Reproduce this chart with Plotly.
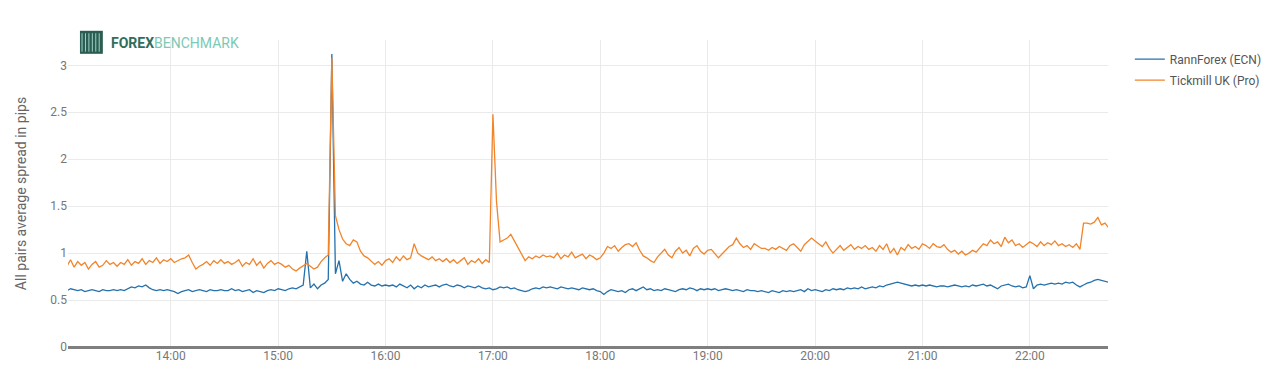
import pandas as pd
import plotly.graph_objects as go

# Sampling: every 2 minutes starting 13:02
start_time = "2024-01-01 13:02"
step = "2min"

rannforex = [
    0.60, 0.62, 0.61, 0.60, 0.61, 0.59, 0.60, 0.61, 0.60, 0.59, 0.61, 0.60, 0.60, 0.61, 0.60,
    0.61, 0.60, 0.62, 0.64, 0.63, 0.65, 0.64, 0.66, 0.63, 0.61, 0.60, 0.61, 0.60, 0.61, 0.60,
    0.59, 0.57, 0.59, 0.60, 0.61, 0.59, 0.60, 0.61, 0.60, 0.59, 0.61, 0.60, 0.60, 0.61, 0.60,
    0.60, 0.62, 0.60, 0.61, 0.59, 0.60, 0.61, 0.58, 0.60, 0.59, 0.58, 0.60, 0.61, 0.60, 0.62,
    0.61, 0.60, 0.62, 0.63, 0.62, 0.64, 0.66, 1.02, 0.63, 0.67, 0.62, 0.66, 0.68, 0.72, 3.12,
    0.78, 0.92, 0.70, 0.78, 0.72, 0.68, 0.70, 0.67, 0.66, 0.69, 0.66, 0.65, 0.67, 0.65, 0.66,
    0.65, 0.66, 0.64, 0.67, 0.65, 0.63, 0.66, 0.62, 0.65, 0.63, 0.66, 0.64, 0.65, 0.66, 0.64,
    0.66, 0.67, 0.65, 0.64, 0.66, 0.65, 0.63, 0.65, 0.64, 0.63, 0.65, 0.63, 0.62, 0.63, 0.61,
    0.62, 0.64, 0.63, 0.64, 0.62, 0.63, 0.61, 0.60, 0.59, 0.60, 0.62, 0.63, 0.62, 0.64, 0.63,
    0.64, 0.63, 0.62, 0.64, 0.63, 0.62, 0.63, 0.62, 0.61, 0.63, 0.62, 0.61, 0.62, 0.60, 0.59,
    0.56, 0.59, 0.61, 0.60, 0.59, 0.60, 0.58, 0.61, 0.62, 0.60, 0.62, 0.64, 0.61, 0.62, 0.60,
    0.61, 0.60, 0.62, 0.61, 0.60, 0.59, 0.61, 0.62, 0.61, 0.63, 0.62, 0.60, 0.62, 0.61, 0.62,
    0.61, 0.62, 0.60, 0.61, 0.62, 0.61, 0.60, 0.61, 0.60, 0.59, 0.61, 0.60, 0.60, 0.59, 0.60,
    0.59, 0.58, 0.60, 0.59, 0.58, 0.60, 0.59, 0.60, 0.59, 0.60, 0.61, 0.59, 0.62, 0.60, 0.61,
    0.60, 0.59, 0.61, 0.60, 0.62, 0.61, 0.62, 0.61, 0.63, 0.62, 0.63, 0.62, 0.64, 0.62, 0.63,
    0.64, 0.63, 0.65, 0.64, 0.66, 0.67, 0.68, 0.69, 0.68, 0.67, 0.66, 0.65, 0.66, 0.65, 0.66,
    0.65, 0.66, 0.65, 0.64, 0.65, 0.65, 0.64, 0.65, 0.66, 0.65, 0.64, 0.65, 0.64, 0.66, 0.65,
    0.66, 0.67, 0.65, 0.66, 0.64, 0.62, 0.65, 0.66, 0.67, 0.65, 0.64, 0.65, 0.63, 0.64, 0.76,
    0.62, 0.66, 0.67, 0.66, 0.67, 0.68, 0.67, 0.68, 0.67, 0.69, 0.68, 0.69, 0.66, 0.64, 0.66,
    0.68, 0.69, 0.71, 0.72, 0.71, 0.70, 0.69,
]

tickmill = [
    0.86, 0.93, 0.85, 0.91, 0.87, 0.90, 0.83, 0.88, 0.91, 0.85, 0.87, 0.92, 0.88, 0.90, 0.86,
    0.90, 0.88, 0.93, 0.87, 0.91, 0.89, 0.94, 0.88, 0.92, 0.90, 0.95, 0.89, 0.93, 0.91, 0.94,
    0.90, 0.92, 0.94, 0.95, 0.98, 0.90, 0.83, 0.86, 0.88, 0.91, 0.87, 0.92, 0.89, 0.93, 0.89,
    0.91, 0.88, 0.90, 0.93, 0.86, 0.90, 0.88, 0.94, 0.87, 0.91, 0.84, 0.89, 0.92, 0.88, 0.90,
    0.88, 0.85, 0.87, 0.83, 0.81, 0.84, 0.87, 0.89, 0.86, 0.83, 0.85, 0.91, 0.95, 0.98, 3.08,
    1.40, 1.25, 1.15, 1.10, 1.08, 1.14, 1.12, 1.02, 0.97, 0.95, 0.92, 0.88, 0.91, 0.87, 0.92,
    0.94, 0.90, 0.96, 0.92, 0.97, 0.93, 0.95, 1.10, 1.00, 0.97, 0.95, 0.93, 0.96, 0.92, 0.94,
    0.91, 0.94, 0.90, 0.93, 0.89, 0.92, 0.95, 0.88, 0.92, 0.90, 0.94, 0.89, 0.93, 0.90, 2.48,
    1.55, 1.12, 1.14, 1.16, 1.20, 1.13, 1.06, 0.98, 0.92, 0.96, 0.94, 0.97, 0.95, 0.98, 0.96,
    0.97, 0.95, 1.00, 0.94, 0.98, 0.96, 1.01, 0.95, 0.97, 0.99, 0.94, 0.98, 0.96, 0.93, 0.95,
    1.00, 1.07, 1.05, 1.08, 1.02, 1.06, 1.09, 1.10, 1.07, 1.11, 1.03, 0.97, 0.95, 0.92, 0.90,
    0.96, 1.00, 1.04, 0.98, 0.95, 1.02, 1.06, 1.00, 1.03, 0.97, 1.05, 1.08, 1.02, 0.99, 1.03,
    1.04, 1.00, 0.95, 0.99, 1.03, 1.07, 1.09, 1.16, 1.10, 1.06, 1.08, 1.04, 1.10, 1.07, 1.05,
    1.05, 1.03, 1.06, 1.04, 1.07, 1.05, 1.03, 1.08, 1.10, 1.06, 1.02, 1.09, 1.13, 1.16, 1.13,
    1.10, 1.07, 1.12, 1.05, 1.00, 1.04, 1.08, 1.03, 1.06, 1.09, 1.04, 1.07, 1.05, 1.08, 1.04,
    1.06, 1.02, 1.08, 1.04, 1.10, 1.00, 1.05, 0.98, 1.06, 1.03, 1.09, 1.05, 1.07, 1.04, 1.10,
    1.08, 1.05, 1.10, 1.07, 1.06, 1.09, 1.04, 1.01, 1.03, 0.99, 1.02, 0.98, 1.00, 1.03, 1.01,
    1.05, 1.10, 1.08, 1.14, 1.10, 1.12, 1.07, 1.17, 1.11, 1.14, 1.08, 1.10, 1.06, 1.09, 1.12,
    1.10, 1.07, 1.12, 1.08, 1.11, 1.09, 1.13, 1.08, 1.10, 1.07, 1.09, 1.06, 1.10, 1.04, 1.32,
    1.32, 1.31, 1.33, 1.38, 1.30, 1.32, 1.27,
]

series_names = ["RannForex (ECN)", "Tickmill UK (Pro)"]
y_ticks = [0, 0.5, 1, 1.5, 2, 2.5, 3]
y_tick_labels = ["0", "0.5", "1", "1.5", "2", "2.5", "3"]

times = pd.date_range(start_time, periods=len(rannforex), freq=step)

fig = go.Figure()
fig.add_trace(go.Scatter(x=times, y=rannforex, mode="lines", name=series_names[0],
                         legendgroup="a",
                         line=dict(color="#2471ad", width=1.3)))
fig.add_trace(go.Scatter(x=times, y=tickmill, mode="lines", name=series_names[1],
                         legendgroup="b",
                         line=dict(color="#f2842a", width=1.3)))

fig.update_layout(
    width=1280, height=384,
    margin=dict(l=68, r=172, t=40, b=37),
    paper_bgcolor="white", plot_bgcolor="white",
    font=dict(family="Roboto", size=12, color="#666"),
    showlegend=True,
    legend=dict(x=1.021, y=0.985, xanchor="left", yanchor="top",
                font=dict(size=12, color="#555"), bgcolor="rgba(0,0,0,0)",
                traceorder="grouped", tracegroupgap=2),
    xaxis=dict(
        type="date",
        range=["2024-01-01 13:02:35", "2024-01-01 22:43:40"],
        dtick=3600000, tick0="2024-01-01 14:00",
        tickformat="%H:%M",
        showgrid=True, gridcolor="#eaeaea", gridwidth=1,
        zeroline=False, showline=False, ticks="",
        tickfont=dict(size=12, color="#777"),
    ),
    yaxis=dict(
        range=[0, 3.27],
        tickvals=y_ticks, ticktext=y_tick_labels,
        showgrid=True, gridcolor="#eaeaea", gridwidth=1,
        zeroline=True, zerolinecolor="#7f7f7f", zerolinewidth=3,
        showline=False, ticks="",
        tickfont=dict(size=12, color="#777"),
        title=dict(text="All pairs average spread in pips",
                   font=dict(size=14, color="#666"), standoff=20),
    ),
)

# Logo: icon + text
fig.add_shape(type="rect", xref="paper", yref="paper",
              x0=0.0115, x1=0.0335, y0=0.955, y1=1.03,
              fillcolor="#2b5d52", line=dict(width=0), layer="above")
for k in range(6):
    xs = 0.0135 + k * 0.0033
    fig.add_shape(type="line", xref="paper", yref="paper",
                  x0=xs, x1=xs, y0=0.962, y1=1.022,
                  line=dict(color="#9fd0c3", width=1), layer="above")
fig.add_annotation(xref="paper", yref="paper", x=0.039, y=0.99,
                   xanchor="left", yanchor="middle", showarrow=False,
                   text="<b><span style='color:#2e6e5e'>FOREX</span></b>"
                        "<span style='color:#7cc9b4'>BENCHMARK</span>",
                   font=dict(family="Roboto", size=14))

fig.write_html("out.html")
